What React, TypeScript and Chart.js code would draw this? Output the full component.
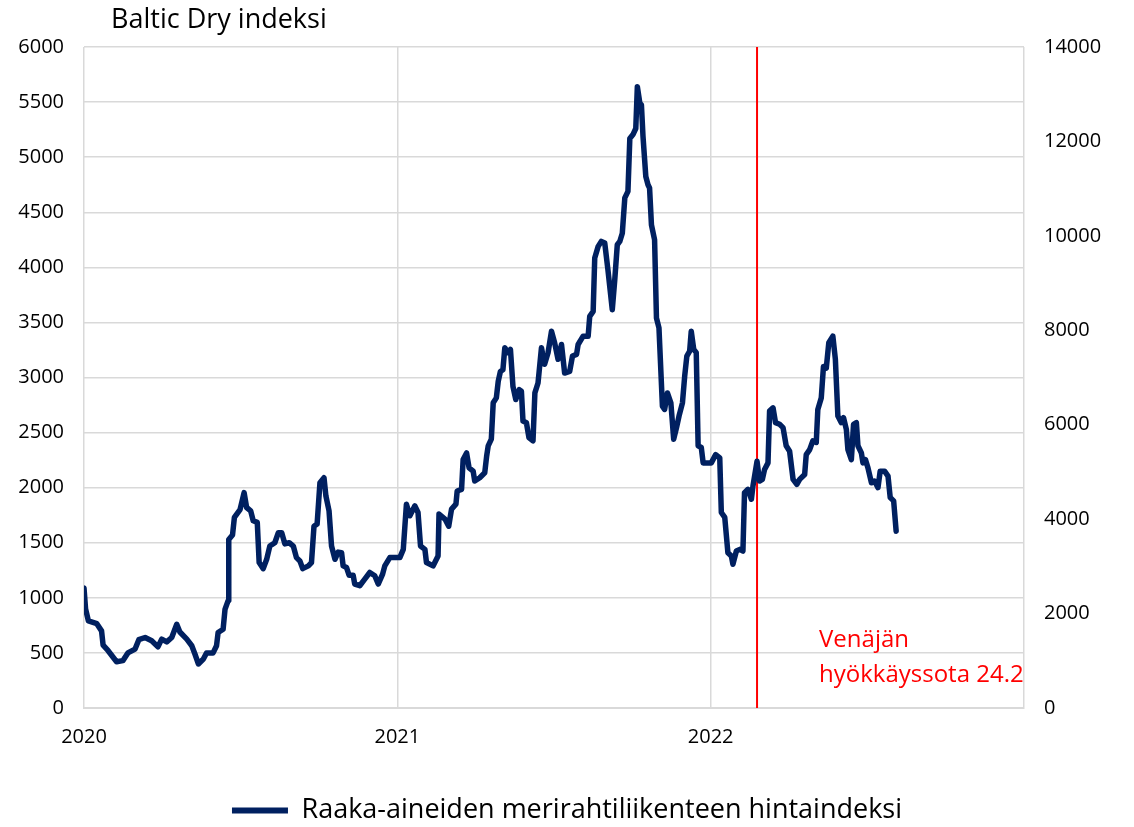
import React, { useEffect, useRef } from "react";
import { Chart, registerables } from "chart.js";

Chart.register(...registerables);

const FONT = "'Open Sans', 'Noto Sans', 'Liberation Sans', sans-serif";
const NAVY = "#002060";
const GRID = "#d9d9d9";

const chartTitle = "Baltic Dry indeksi";
const seriesName = "Raaka-aineiden merirahtiliikenteen hintaindeksi";
const warLabelLines = ["Venäjän", "hyökkäyssota 24.2"];
const warDate = 2022.148;
const xTickYears = [2020, 2021, 2022];
const leftMax = 6000;
const leftStep = 500;
const rightMax = 14000;
const rightStep = 2000;

// decimal year of each observation
const years = [
  2020.000, 2020.005, 2020.014, 2020.041, 2020.056, 2020.061, 2020.077, 2020.104, 2020.124, 2020.140,
  2020.163, 2020.175, 2020.195, 2020.216, 2020.236, 2020.248, 2020.264, 2020.280, 2020.296, 2020.306,
  2020.328, 2020.344, 2020.354, 2020.365, 2020.381, 2020.391, 2020.412, 2020.423, 2020.428, 2020.444,
  2020.450, 2020.460, 2020.462, 2020.474, 2020.480, 2020.498, 2020.511, 2020.519, 2020.532, 2020.540,
  2020.553, 2020.559, 2020.572, 2020.583, 2020.593, 2020.609, 2020.620, 2020.631, 2020.641, 2020.655,
  2020.668, 2020.678, 2020.689, 2020.698, 2020.716, 2020.726, 2020.734, 2020.744, 2020.753, 2020.766,
  2020.772, 2020.782, 2020.790, 2020.801, 2020.811, 2020.822, 2020.827, 2020.838, 2020.846, 2020.859,
  2020.864, 2020.880, 2020.896, 2020.912, 2020.928, 2020.939, 2020.953, 2020.960, 2020.976, 2021.008,
  2021.019, 2021.029, 2021.040, 2021.056, 2021.066, 2021.074, 2021.088, 2021.093, 2021.114, 2021.130,
  2021.133, 2021.152, 2021.164, 2021.173, 2021.187, 2021.191, 2021.205, 2021.210, 2021.221, 2021.229,
  2021.242, 2021.247, 2021.263, 2021.279, 2021.285, 2021.290, 2021.300, 2021.306, 2021.316, 2021.322,
  2021.329, 2021.337, 2021.343, 2021.353, 2021.361, 2021.369, 2021.378, 2021.389, 2021.396, 2021.401,
  2021.412, 2021.420, 2021.433, 2021.439, 2021.449, 2021.460, 2021.470, 2021.481, 2021.492, 2021.502,
  2021.513, 2021.524, 2021.534, 2021.550, 2021.559, 2021.572, 2021.577, 2021.593, 2021.609, 2021.614,
  2021.625, 2021.630, 2021.641, 2021.651, 2021.662, 2021.672, 2021.678, 2021.686, 2021.694, 2021.702,
  2021.710, 2021.718, 2021.726, 2021.736, 2021.742, 2021.752, 2021.761, 2021.766, 2021.774, 2021.779,
  2021.784, 2021.793, 2021.800, 2021.805, 2021.811, 2021.821, 2021.827, 2021.835, 2021.846, 2021.853,
  2021.862, 2021.873, 2021.882, 2021.891, 2021.899, 2021.910, 2021.917, 2021.924, 2021.933, 2021.938,
  2021.946, 2021.954, 2021.960, 2021.970, 2021.976, 2022.002, 2022.016, 2022.029, 2022.034, 2022.045,
  2022.055, 2022.066, 2022.071, 2022.082, 2022.093, 2022.103, 2022.108, 2022.119, 2022.130, 2022.135,
  2022.148, 2022.156, 2022.165, 2022.172, 2022.183, 2022.188, 2022.199, 2022.207, 2022.220, 2022.231,
  2022.241, 2022.252, 2022.263, 2022.275, 2022.284, 2022.300, 2022.305, 2022.316, 2022.326, 2022.337,
  2022.342, 2022.353, 2022.360, 2022.369, 2022.377, 2022.390, 2022.398, 2022.406, 2022.417, 2022.424,
  2022.433, 2022.438, 2022.449, 2022.456, 2022.465, 2022.470, 2022.481, 2022.486, 2022.494, 2022.502,
  2022.513, 2022.523, 2022.534, 2022.541, 2022.555, 2022.566, 2022.573, 2022.584, 2022.592,
];

// Baltic Dry index values
const bdi = [
  1090, 900, 790, 765, 700, 570, 520, 420, 430, 500,
  535, 620, 640, 610, 555, 625, 600, 640, 760, 690,
  625, 565, 490, 400, 445, 500, 500, 565, 685, 715,
  895, 975, 1530, 1570, 1730, 1800, 1955, 1820, 1790, 1700,
  1685, 1320, 1265, 1350, 1470, 1500, 1590, 1590, 1490, 1500,
  1470, 1365, 1335, 1265, 1290, 1320, 1650, 1670, 2045, 2090,
  1925, 1790, 1470, 1350, 1415, 1410, 1290, 1275, 1205, 1205,
  1125, 1110, 1170, 1230, 1200, 1125, 1215, 1290, 1365, 1365,
  1440, 1850, 1745, 1835, 1775, 1470, 1440, 1320, 1290, 1380,
  1760, 1715, 1650, 1805, 1850, 1970, 1985, 2255, 2315, 2180,
  2150, 2060, 2090, 2135, 2285, 2380, 2440, 2770, 2815, 2965,
  3055, 3070, 3270, 3225, 3255, 2920, 2800, 2890, 2875, 2605,
  2590, 2455, 2425, 2860, 2950, 3270, 3120, 3225, 3420, 3315,
  3165, 3300, 3040, 3055, 3195, 3210, 3300, 3375, 3375, 3555,
  3600, 4085, 4190, 4235, 4220, 3980, 3825, 3615, 3890, 4205,
  4235, 4310, 4630, 4690, 5170, 5205, 5260, 5640, 5490, 5475,
  5190, 4825, 4750, 4720, 4385, 4250, 3540, 3450, 2740, 2710,
  2860, 2770, 2440, 2545, 2650, 2770, 3010, 3195, 3240, 3420,
  3255, 3225, 2380, 2365, 2225, 2225, 2300, 2270, 1775, 1730,
  1410, 1380, 1305, 1425, 1440, 1425, 1955, 1985, 1895, 2015,
  2240, 2060, 2075, 2165, 2225, 2695, 2725, 2590, 2575, 2545,
  2380, 2330, 2075, 2030, 2075, 2120, 2300, 2345, 2425, 2410,
  2710, 2815, 3100, 3085, 3315, 3375, 3165, 2650, 2590, 2635,
  2530, 2345, 2255, 2575, 2590, 2380, 2315, 2225, 2255, 2180,
  2045, 2060, 2000, 2150, 2150, 2105, 1910, 1880, 1605,
];

const overlayPlugin = {
  id: "overlayText",
  afterDraw(chart: any) {
    const { ctx, chartArea, scales } = chart;
    ctx.save();
    ctx.fillStyle = "#000000";
    ctx.font = `27px ${FONT}`;
    ctx.textAlign = "left";
    ctx.textBaseline = "middle";
    ctx.fillText(chartTitle, chartArea.left + 27, 20);
    const x = scales.x.getPixelForValue(warDate) + 62;
    ctx.fillStyle = "#ff0000";
    ctx.font = `24px ${FONT}`;
    ctx.fillText(warLabelLines[0], x, 640);
    ctx.fillText(warLabelLines[1], x, 675);
    ctx.restore();
  },
};

export default function App() {
  const ref = useRef<HTMLCanvasElement | null>(null);

  useEffect(() => {
    if (!ref.current) return;
    const points = years.map((y, i) => ({ x: y, y: bdi[i] }));
    const chart = new Chart(ref.current, {
      type: "line",
      data: {
        datasets: [
          {
            label: seriesName,
            data: points,
            borderColor: NAVY,
            backgroundColor: NAVY,
            borderWidth: 5.5,
            pointRadius: 0,
            tension: 0,
            borderJoinStyle: "round",
            borderCapStyle: "round",
            yAxisID: "y",
          },
          {
            label: "war",
            data: [
              { x: warDate, y: 0 },
              { x: warDate, y: leftMax },
            ],
            borderColor: "#ff0000",
            borderWidth: 2,
            pointRadius: 0,
            yAxisID: "y",
          },
        ],
      },
      options: {
        animation: false,
        responsive: true,
        maintainAspectRatio: false,
        layout: { padding: { top: 47, left: 0, right: 0, bottom: -7 } },
        plugins: {
          tooltip: { enabled: false },
          title: { display: false },
          legend: {
            display: true,
            position: "bottom",
            labels: {
              font: { family: FONT, size: 27 },
              color: "#000000",
              padding: 0,
              boxWidth: 56,
              boxHeight: 6,
              generateLabels: () => [
                {
                  text: seriesName,
                  fillStyle: NAVY,
                  strokeStyle: NAVY,
                  lineWidth: 0,
                  datasetIndex: 0,
                  hidden: false,
                },
              ],
            },
          },
        },
        scales: {
          x: {
            type: "linear",
            min: 2020,
            max: 2023,
            ticks: {
              stepSize: 1,
              padding: 17,
              color: "#000000",
              font: { family: FONT, size: 20 },
              callback: (v: any) => (xTickYears.includes(Number(v)) ? String(v) : ""),
              maxRotation: 0,
            },
            grid: { color: GRID, lineWidth: 1.5, drawTicks: false },
            border: { color: GRID, width: 2 },
            afterFit: (s: any) => {
              s.height = 89;
            },
          },
          y: {
            type: "linear",
            position: "left",
            min: 0,
            max: leftMax,
            ticks: {
              stepSize: leftStep,
              padding: 20,
              color: "#000000",
              font: { family: FONT, size: 20 },
              callback: (v: any) => String(v),
            },
            grid: { color: GRID, lineWidth: 1.5, drawTicks: false },
            border: { display: false },
            afterFit: (s: any) => {
              s.width = 84;
            },
          },
          y2: {
            type: "linear",
            position: "right",
            display: true,
            min: 0,
            max: rightMax,
            ticks: {
              stepSize: rightStep,
              padding: 20,
              color: "#000000",
              font: { family: FONT, size: 20 },
              callback: (v: any) => String(v),
            },
            grid: { display: false, drawTicks: false },
            border: { display: false },
            afterFit: (s: any) => {
              s.width = 110;
            },
          },
        },
      },
      plugins: [overlayPlugin],
    });
    return () => chart.destroy();
  }, []);

  return (
    <div style={{ position: "fixed", left: 0, top: 0, width: 1134, height: 827, background: "#ffffff" }}>
      <canvas ref={ref} />
    </div>
  );
}
